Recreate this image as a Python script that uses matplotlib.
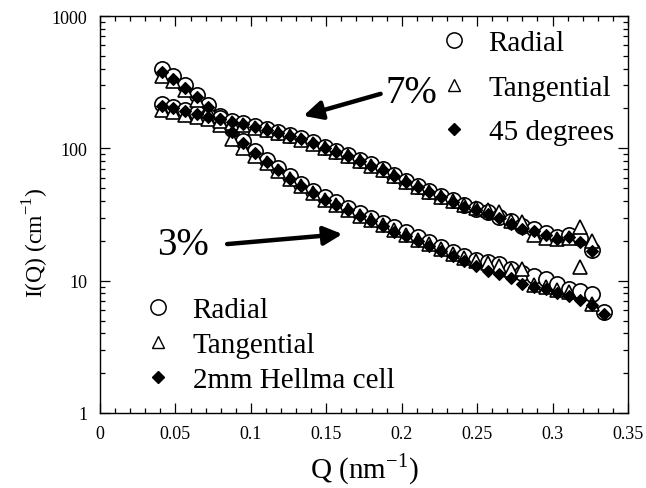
import matplotlib
matplotlib.use("Agg")
import matplotlib.pyplot as plt
from matplotlib.lines import Line2D
from matplotlib.ticker import MultipleLocator, LogLocator, FuncFormatter, NullFormatter

plt.rcParams['font.family'] = ['Liberation Serif', 'DejaVu Serif']
plt.rcParams['mathtext.fontset'] = 'custom'
plt.rcParams['mathtext.rm'] = 'Liberation Serif'

# ---- data ----
q_grid = [0.0410, 0.0487, 0.0564, 0.0641, 0.0718, 0.0796, 0.0873, 0.0950, 0.1027, 0.1104,
          0.1181, 0.1258, 0.1335, 0.1412, 0.1489, 0.1567, 0.1644, 0.1721, 0.1798, 0.1875,
          0.1952, 0.2029, 0.2106, 0.2183, 0.2260, 0.2337, 0.2415, 0.2492, 0.2569, 0.2646,
          0.2723, 0.2800, 0.2877, 0.2954, 0.3031, 0.3108, 0.3185, 0.3262, 0.3339]

q7 = q_grid[:38]
i7_radial = [215, 205, 194, 185, 177, 169, 162, 155, 148, 141, 134, 127, 119, 111, 103, 96, 89, 82,
             76, 70, 63, 57, 52, 48, 44, 40.5, 37, 35, 33, 30.5, 28, 26, 24.5, 23, 21.5, 22, 21, 17]
i7_tangential = [195, 188, 180, 173, 167, 161, 155, 149, 143, 137, 130, 123, 116, 108, 101, 94, 87, 80,
                 74, 68, 62, 56, 51, 47, 43, 40, 37, 35.5, 34, 33, 28, 27.6, 22, 21, 20.5, 21, 25.3, 20]
i7_45deg = [210, 200, 190, 181, 173, 166, 159, 152, 145, 138, 131, 124, 117, 109, 101, 94, 87, 80,
            74, 68, 62, 56, 51, 47, 43, 39.5, 36, 34, 32, 29.5, 27, 24.5, 23.9, 22, 20.7, 21.3, 19.5, 16.9]

q3 = q_grid
q3_tan = q_grid[:38]
i3_radial = [395, 350, 300, 255, 212, 175, 140, 114, 96, 82, 71, 62, 54, 48, 43, 39, 35.5, 32.5,
             29.8, 27.5, 25.3, 23.3, 21.3, 19.6, 18.0, 16.6, 15.4, 14.4, 13.8, 13.3, 12.3, 11.5,
             10.9, 10.3, 9.5, 8.7, 8.4, 7.9, 5.8]
i3_tangential = [355, 320, 275, 232, 192, 150, 118, 100, 88, 77, 67, 59, 51.5, 46, 41, 37, 34, 31,
                 28.5, 26.3, 24.2, 22.3, 20.4, 18.8, 17.3, 16.0, 14.9, 14.2, 13.7, 13.0, 12.0, 12.3,
                 9.2, 9.0, 8.5, 8.2, 12.6, 6.7]
i3_hellma = [375, 335, 288, 245, 205, 168, 133, 110, 92, 79, 68, 59, 52, 46, 41, 37.5, 34, 31, 28, 25.8,
             23.5, 21.6, 19.8, 18.2, 16.8, 15.4, 14.2, 13.0, 11.9, 11.2, 10.4, 9.5, 9.0, 8.6, 8.1,
             7.6, 7.1, 6.6, 5.6]

labels_7 = ["Radial", "Tangential", "45 degrees"]
labels_3 = ["Radial", "Tangential", "2mm Hellma cell"]

# ---- figure ----
fig = plt.figure(figsize=(6.46, 4.89), dpi=100)
ax = fig.add_axes([100 / 646, 1 - 414 / 489, 528 / 646, 397 / 489])

circ = dict(marker='o', ms=11, mfc='white', mec='black', mew=1.2, ls='none')
tri = dict(marker='^', ms=10.5, mfc='white', mec='black', mew=1.2, ls='none')
dia = dict(marker='D', ms=6.5, mfc='black', mec='black', mew=0.8, ls='none')

ax.plot(q3, i3_radial, zorder=3, **circ)
ax.plot(q7, i7_radial, zorder=3, **circ)
ax.plot(q3_tan, i3_tangential, zorder=4, **tri)
ax.plot(q7, i7_tangential, zorder=4, **tri)
ax.plot(q3, i3_hellma, zorder=5, **dia)
ax.plot(q7, i7_45deg, zorder=5, **dia)

ax.set_yscale('log')
ax.set_xlim(0, 0.35)
ax.set_ylim(1, 1000)

ax.xaxis.set_major_locator(MultipleLocator(0.05))
ax.xaxis.set_minor_locator(MultipleLocator(0.01))
ax.xaxis.set_major_formatter(FuncFormatter(lambda v, p: '%g' % round(v, 3)))
ax.yaxis.set_major_locator(LogLocator(base=10))
ax.yaxis.set_minor_locator(LogLocator(base=10, subs=range(2, 10)))
ax.yaxis.set_major_formatter(FuncFormatter(lambda v, p: '%g' % v))
ax.yaxis.set_minor_formatter(NullFormatter())

ax.tick_params(which='both', direction='in', top=True, right=True, labelsize=13, width=0.9)
ax.tick_params(which='major', length=7)
ax.tick_params(which='minor', length=3.5)
ax.tick_params(axis='x', pad=9)
ax.tick_params(axis='y', pad=9)
for s in ax.spines.values():
    s.set_linewidth(1.0)

ax.set_xlabel(r'Q (nm$^{\mathregular{-1}}$)', fontsize=21, labelpad=6)
ax.set_ylabel(r'I(Q) (cm$^{\mathregular{-1}}$)', fontsize=17)
ax.yaxis.set_label_coords(-0.093, 0.431)

# annotations
ax.annotate('', xy=(0.1348, 176), xytext=(0.186, 258),
            arrowprops=dict(arrowstyle='-|>', lw=3.2, color='black', mutation_scale=28,
                            shrinkA=0, shrinkB=0))
ax.annotate('', xy=(0.1607, 22.5), xytext=(0.0843, 18.9),
            arrowprops=dict(arrowstyle='-|>', lw=3.2, color='black', mutation_scale=28,
                            shrinkA=0, shrinkB=0))
ax.text(0.2066, 265, '7%', fontsize=28, ha='center', va='center')
ax.text(0.0551, 18.9, '3%', fontsize=28, ha='center', va='center')

# legends
def handles():
    return [Line2D([], [], marker='o', ms=11, mfc='white', mec='black', mew=1.1, ls='none'),
            Line2D([], [], marker='^', ms=8, mfc='white', mec='black', mew=1.0, ls='none'),
            Line2D([], [], marker='D', ms=6.5, mfc='black', mec='black', ls='none')]

leg1 = ax.legend(handles(), labels_7, loc='upper left', bbox_to_anchor=(439 / 646, 1 - 31 / 489),
                 bbox_transform=fig.transFigure, frameon=False, fontsize=21,
                 handlelength=1.0, handletextpad=0.7, labelspacing=0.62, borderpad=0,
                 borderaxespad=0)
ax.add_artist(leg1)
leg2 = ax.legend(handles(), labels_3, loc='upper left', bbox_to_anchor=(143 / 646, 1 - 298 / 489),
                 bbox_transform=fig.transFigure, frameon=False, fontsize=21,
                 handlelength=1.0, handletextpad=0.7, labelspacing=0.29, borderpad=0,
                 borderaxespad=0)

fig.savefig('out.png', dpi=100)
